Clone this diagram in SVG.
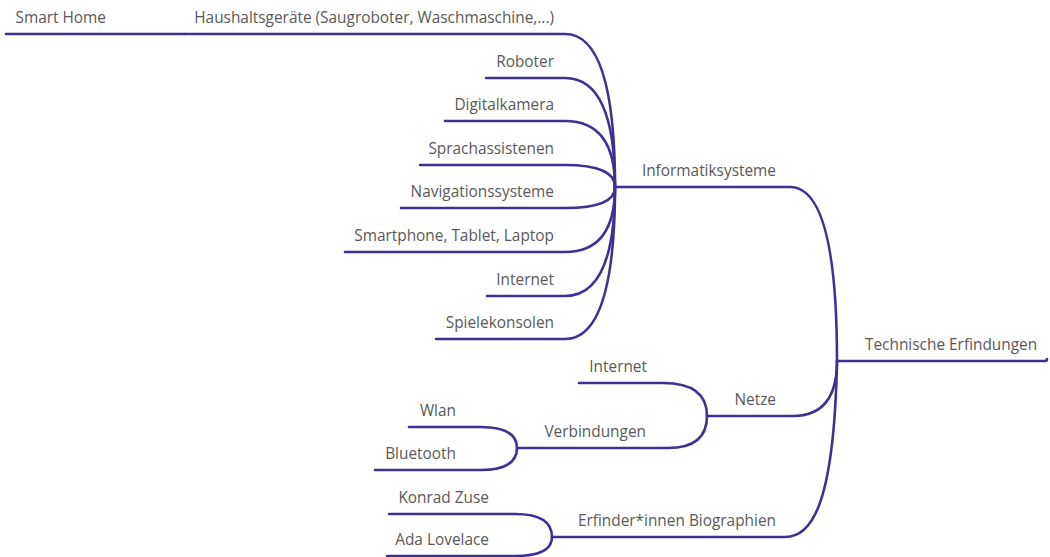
<svg xmlns="http://www.w3.org/2000/svg" width="1050" height="557" viewBox="0 0 1050 557">
<style>
  .c { fill: none; stroke: #3d3192; stroke-width: 2.6; stroke-linecap: round; }
  text { font-family: "Open Sans", "Noto Sans", "Liberation Sans", sans-serif; font-size: 15.4px; fill: #595959; }
  .r { text-anchor: end; }
</style>
<rect width="1050" height="557" fill="#ffffff"/>
<g id="connectors">
  <!-- Technische Erfindungen -->
  <path class="c" d="M837 361 H1045 Q1047 361 1047 359"/>
  <!-- Informatiksysteme -->
  <path class="c" d="M615 187 H790 Q837 187 837 361"/>
  <!-- Netze -->
  <path class="c" d="M707 416 H793 Q837 416 837 361"/>
  <!-- Erfinder -->
  <path class="c" d="M552 537 H785 C808 537 834 515 837 361"/>
  <!-- Informatik children -->
  <path class="c" d="M185 34 H565 Q615 34 615 187"/>
  <path class="c" d="M6 34 H185"/>
  <path class="c" d="M486 78 H565 Q615 78 615 187"/>
  <path class="c" d="M445 121 H565 Q615 121 615 187"/>
  <path class="c" d="M420 165 H565 Q615 165 615 187"/>
  <path class="c" d="M401 208 H565 Q615 208 615 187"/>
  <path class="c" d="M345 252 H565 Q615 252 615 187"/>
  <path class="c" d="M487 296 H565 Q615 296 615 187"/>
  <path class="c" d="M436 339 H565 Q615 339 615 187"/>
  <!-- Netze children -->
  <path class="c" d="M579 383 H663 Q707 383 707 416"/>
  <path class="c" d="M517 448 H668 Q707 448 707 416"/>
  <!-- Verbindungen children -->
  <path class="c" d="M409 427 H480 Q517 427 517 448"/>
  <path class="c" d="M375 470 H480 Q517 470 517 448"/>
  <!-- Erfinder children -->
  <path class="c" d="M389 514 H515 Q552 514 552 537"/>
  <path class="c" d="M387 556 H515 Q552 556 552 537"/>
</g>
<g id="n-technische"><text x="865" y="350">Technische Erfindungen</text></g>
<g id="n-informatik"><text class="r" x="776" y="176">Informatiksysteme</text></g>
<g id="n-netze"><text class="r" x="776" y="405">Netze</text></g>
<g id="n-erfinder"><text class="r" x="776" y="526">Erfinder*innen Biographien</text></g>
<g id="n-haushalt"><text class="r" x="554" y="23">Haushaltsgeräte (Saugroboter, Waschmaschine,...)</text></g>
<g id="n-smarthome"><text class="r" x="106" y="23">Smart Home</text></g>
<g id="n-roboter"><text class="r" x="554" y="67">Roboter</text></g>
<g id="n-digitalkamera"><text class="r" x="554" y="110">Digitalkamera</text></g>
<g id="n-sprach"><text class="r" x="554" y="154">Sprachassistenen</text></g>
<g id="n-navi"><text class="r" x="554" y="197">Navigationssysteme</text></g>
<g id="n-smartphone"><text class="r" x="554" y="241">Smartphone, Tablet, Laptop</text></g>
<g id="n-internet1"><text class="r" x="554" y="285">Internet</text></g>
<g id="n-spiele"><text class="r" x="554" y="328">Spielekonsolen</text></g>
<g id="n-internet2"><text class="r" x="647" y="372">Internet</text></g>
<g id="n-verbindungen"><text class="r" x="646" y="437">Verbindungen</text></g>
<g id="n-wlan"><text class="r" x="456" y="416">Wlan</text></g>
<g id="n-bluetooth"><text class="r" x="456" y="459">Bluetooth</text></g>
<g id="n-zuse"><text class="r" x="489" y="503">Konrad Zuse</text></g>
<g id="n-lovelace"><text class="r" x="489" y="545">Ada Lovelace</text></g>
</svg>
